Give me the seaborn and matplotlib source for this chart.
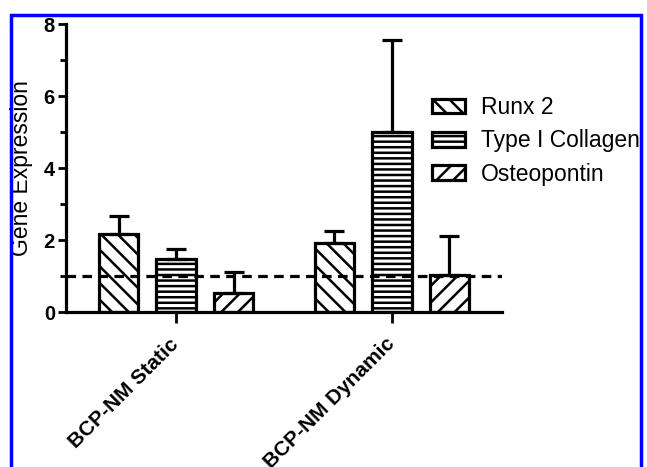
import numpy as np
import pandas as pd
import matplotlib
matplotlib.use('Agg')
import matplotlib.pyplot as plt
import matplotlib.patches as mpatches
from matplotlib.ticker import MultipleLocator
import seaborn as sns

# Values
conditions = ['BCP-NM Static', 'BCP-NM Dynamic']
genes = ['Runx 2', 'Type I Collagen', 'Osteopontin']
runx2 = [2.18, 1.92]
collagen = [1.47, 5.00]
osteopontin = [0.54, 1.03]
runx2_err = [0.50, 0.33]
collagen_err = [0.29, 2.56]
osteopontin_err = [0.56, 1.08]
hatches = ['\\\\', '---', '//']
baseline = 1.0

sns.set_style('ticks', {'axes.edgecolor': 'black', 'text.color': 'black',
                        'axes.labelcolor': 'black', 'xtick.color': 'black',
                        'ytick.color': 'black'})
plt.rcParams['font.family'] = ['Liberation Sans', 'DejaVu Sans']
plt.rcParams['hatch.linewidth'] = 1.8
plt.rcParams['hatch.color'] = 'black'

df = pd.DataFrame({
    'condition': conditions * 3,
    'gene': [g for g in genes for _ in conditions],
    'expression': runx2 + collagen + osteopontin,
})
errs = [runx2_err, collagen_err, osteopontin_err]

fig = plt.figure(figsize=(6.47, 4.67), dpi=100)
ax = fig.add_axes([66 / 647, 1 - 312 / 467, 436 / 647, 288 / 467])

sns.barplot(data=df, x='condition', y='expression', hue='gene',
            order=conditions, hue_order=genes,
            palette=['white'] * 3, edgecolor='black', linewidth=2.3,
            gap=0.31, errorbar=None, legend=False, ax=ax)

# hatches + one-sided error bars
for cont, h, e in zip(ax.containers, hatches, errs):
    xs, ys = [], []
    for bar in cont:
        bar.set_hatch(h)
        xs.append(bar.get_x() + bar.get_width() / 2)
        ys.append(bar.get_height())
    ax.errorbar(xs, ys, yerr=[np.zeros(len(e)), e], fmt='none',
                ecolor='black', elinewidth=2.3, capsize=7.5, capthick=2.3,
                zorder=1)

ax.axhline(baseline, color='black', lw=2.3, ls=(0, (3, 2)), zorder=5)

ax.set_xlim(-0.51, 1.51)
ax.set_ylim(0, 8)
ax.yaxis.set_major_locator(MultipleLocator(2))
ax.yaxis.set_minor_locator(MultipleLocator(1))
sns.despine(ax=ax)
for s in ['left', 'bottom']:
    ax.spines[s].set_linewidth(2.3)
ax.tick_params(axis='y', which='major', length=6, width=2, pad=2,
               labelsize=14.5)
ax.tick_params(axis='y', which='minor', length=4, width=2)
ax.tick_params(axis='x', length=8, width=2, pad=13, labelsize=15)
for lab in ax.get_yticklabels():
    lab.set_fontweight('bold')
plt.setp(ax.get_xticklabels(), rotation=45, ha='right', va='center',
         rotation_mode='anchor', fontweight='bold')

ax.set_xlabel('')
ax.set_ylabel('Gene Expression', fontsize=16.5)
ax.yaxis.set_label_coords(-0.076, 0.5)

handles = [mpatches.Patch(facecolor='white', edgecolor='black', lw=2.3,
                          hatch=h, label=g) for h, g in zip(hatches, genes)]
fig.legend(handles=handles, loc='upper left',
           bbox_to_anchor=(432 / 647, 1 - 96 / 467), frameon=False,
           fontsize=16.5, borderpad=0, borderaxespad=0, handlelength=1.45,
           handleheight=0.6, handletextpad=0.7, labelspacing=0.45)

# blue frame round the panel
fig.add_artist(mpatches.Rectangle((11 / 647, -0.1), 630 / 647,
                                  1 - 15 / 467 + 0.1, fill=False,
                                  edgecolor='#0000ff', lw=2.5,
                                  transform=fig.transFigure, zorder=10))

fig.savefig('out.png', dpi=100)
